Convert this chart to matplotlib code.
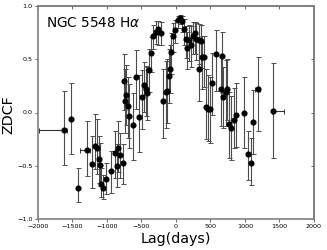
"""ZDCF of NGC 5548 H-alpha light curve: lag vs correlation with error bars."""

import matplotlib
matplotlib.use("Agg")
import matplotlib.pyplot as plt
import numpy as np

lag = [-1628, -1517, -1420, -1290, -1213, -1179, -1145, -1121, -1101, -1082,
       -1053, -1014, -942, -889, -859, -836, -812, -768, -749, -735,
       -725, -700, -677, -619, -575, -536, -497, -464, -435, -416,
       -391, -362, -335, -295, -256, -212, -184, -149, -126, -97,
       -85, -75, -45, -19, 30, 55, 90, 115, 140, 157,
       184, 213, 246, 275, 297, 333, 340, 362, 381, 413,
       442, 466, 490, 524, 577, 650, 667, 688, 720, 744,
       768, 797, 841, 875, 985, 1045, 1082, 1118, 1183, 1406]
zdcf = [-0.16, -0.06, -0.705, -0.35, -0.48, -0.31, -0.33, -0.44, -0.49, -0.67,
        -0.705, -0.625, -0.547, -0.377, -0.50, -0.33, -0.395, -0.476, 0.30, 0.11,
        0.165, 0.057, -0.03, -0.12, 0.337, -0.045, 0.147, 0.256, 0.216, 0.184,
        0.395, 0.556, 0.72, 0.76, 0.78, 0.75, 0.107, 0.188, 0.2, 0.342,
        0.41, 0.566, 0.72, 0.77, 0.87, 0.89, 0.86, 0.78, 0.69, 0.61,
        0.684, 0.63, 0.72, 0.746, 0.69, 0.41, 0.677, 0.67, 0.52, 0.52,
        0.055, 0.035, 0.03, 0.28, 0.552, 0.225, 0.535, 0.15, 0.19, 0.225,
        -0.107, -0.144, -0.067, -0.02, 0.0, -0.388, -0.475, -0.085, 0.225, 0.011]
err_lo = [0.33, 0.33, 0.135, 0.25, 0.23, 0.22, 0.25, 0.22, 0.2, 0.12,
          0.11, 0.14, 0.21, 0.24, 0.2, 0.23, 0.22, 0.2, 0.28, 0.3,
          0.28, 0.3, 0.3, 0.33, 0.3, 0.33, 0.3, 0.25, 0.25, 0.25,
          0.2, 0.18, 0.12, 0.12, 0.15, 0.12, 0.35, 0.33, 0.3, 0.25,
          0.23, 0.2, 0.15, 0.12, 0.08, 0.06, 0.1, 0.15, 0.18, 0.2,
          0.2, 0.2, 0.17, 0.2, 0.2, 0.3, 0.22, 0.25, 0.3, 0.28,
          0.3, 0.3, 0.32, 0.3, 0.35, 0.35, 0.35, 0.3, 0.32, 0.3,
          0.32, 0.3, 0.27, 0.3, 0.33, 0.25, 0.21, 0.3, 0.4, 0.44]
err_hi = [0.36, 0.34, 0.185, 0.27, 0.26, 0.30, 0.27, 0.22, 0.2, 0.15,
          0.12, 0.15, 0.19, 0.2, 0.2, 0.25, 0.2, 0.18, 0.25, 0.3,
          0.28, 0.28, 0.3, 0.3, 0.25, 0.4, 0.25, 0.22, 0.22, 0.24,
          0.2, 0.15, 0.1, 0.1, 0.08, 0.1, 0.3, 0.3, 0.3, 0.25,
          0.22, 0.18, 0.12, 0.1, 0.04, 0.03, 0.05, 0.1, 0.12, 0.15,
          0.14, 0.18, 0.13, 0.1, 0.15, 0.25, 0.15, 0.15, 0.2, 0.2,
          0.35, 0.32, 0.3, 0.28, 0.22, 0.3, 0.22, 0.28, 0.3, 0.28,
          0.3, 0.3, 0.3, 0.3, 0.33, 0.21, 0.24, 0.3, 0.3, 0.45]
# lag uncertainties, only a few are wide enough to see
xerr_lo = [350, 0, 0, 95, 0, 0, 0, 0, 0, 0] + [0] * 68 + [40, 10]
xerr_hi = [50, 0, 0, 50, 0, 0, 0, 0, 0, 0] + [0] * 68 + [40, 155]

xticks = np.arange(-2000, 2001, 500)
yticks = [-1.0, -0.5, 0.0, 0.5, 1.0]


def main() -> None:
    fig = plt.figure(figsize=(3.27, 2.5), dpi=100)
    ax = fig.add_axes([0.116, 0.124, 0.844, 0.852])

    x = np.array(lag, dtype=float)
    y = np.array(zdcf)
    ax.errorbar(x, y, yerr=[err_lo, err_hi], fmt="o", color="k", ecolor="0.3",
                ms=3.4, elinewidth=0.8, capsize=1.8, capthick=0.7)
    xlo = np.array(xerr_lo, dtype=float)
    xhi = np.array(xerr_hi, dtype=float)
    m = (xlo + xhi) > 0
    ax.errorbar(x[m], y[m], xerr=[xlo[m], xhi[m]], fmt="none", ecolor="0.2",
                elinewidth=0.8, capsize=1.8, capthick=0.7)

    ax.set_xlim(-2000, 2000)
    ax.set_ylim(-1.0, 1.0)
    ax.set_xticks(xticks)
    ax.set_yticks(yticks)
    ax.tick_params(direction="out", labelsize=4.6, length=2.5, width=0.6,
                   color="0.3", pad=1.2)
    # mirrored ticks pointing inward on top and right
    top = ax.secondary_xaxis("top")
    top.set_xticks(xticks)
    top.tick_params(direction="in", length=2.5, width=0.6, color="0.3",
                    labeltop=False)
    right = ax.secondary_yaxis("right")
    right.set_yticks(yticks)
    right.tick_params(direction="in", length=2.5, width=0.6, color="0.3",
                      labelright=False)
    for a in (ax, top, right):
        for s in a.spines.values():
            s.set_color("0.5")
            s.set_linewidth(1.2)

    ax.text(0.03, 0.955, r"NGC 5548 H$\alpha$", transform=ax.transAxes,
            fontsize=9.8, va="top", ha="left")
    ax.set_xlabel("Lag(days)", fontsize=10.3, labelpad=2)
    ax.set_ylabel("ZDCF", fontsize=10.3)
    ax.yaxis.set_label_coords(-0.083, 0.49)

    fig.savefig("out.png", dpi=100)


if __name__ == "__main__":
    main()
